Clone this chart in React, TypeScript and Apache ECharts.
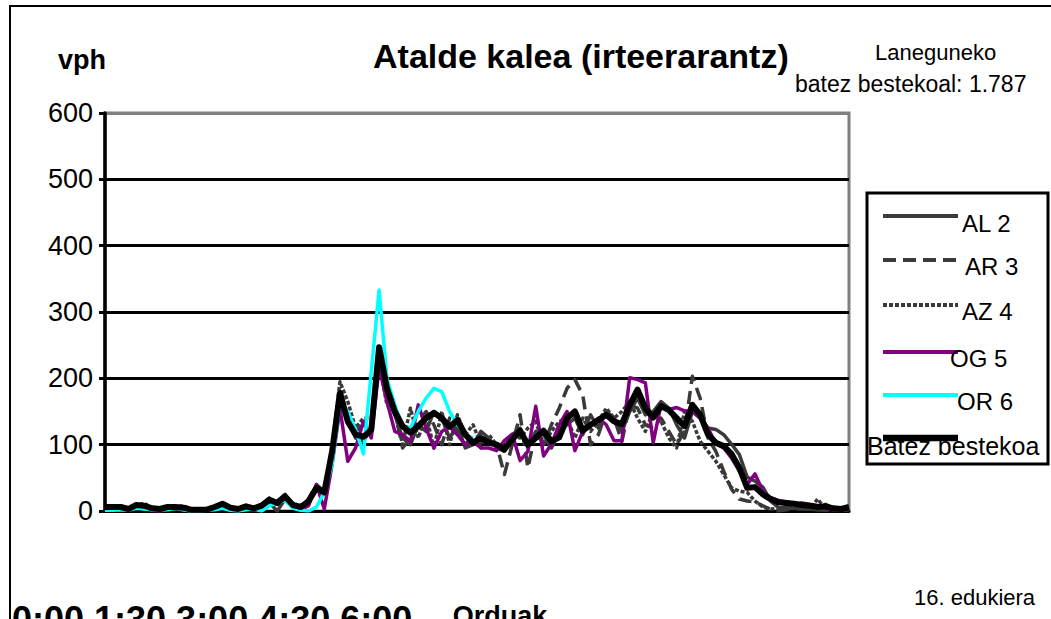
import React, { useEffect, useRef } from "react";
import * as echarts from "echarts";

const FONT = "'Liberation Sans', Arial, sans-serif";

// 15-minute intervals over one day
const categories: string[] = [];
for (let h = 0; h < 24; h++) {
  for (let m = 0; m < 60; m += 15) categories.push(`${h}:${m === 0 ? "00" : m}`);
}

const yMin = 0;
const yMax = 600;
const yStep = 100;

const xLabelRow = ["0:00", "1:30", "3:00", "4:30", "6:00"];

const al2 = [3,5,4,2,8,5,3,2,4,3, 2,1,1,2,4,8,4,2,5,3, 6,12,0,18,7,4,12,32,26,85, 170,140,110,105,125,235,180,145,110,100, 130,120,150,140,110,130,95,100,120,110, 95,90,115,125,95,120,115,95,120,130, 140,115,145,125,150,140,120,150,170,145, 150,165,155,130,110,150,140,125,123,115, 101,85,51,45,36,15,5,5,4,3, 3,2,10,4,2,3];

const ar3 = [8,6,5,4,10,6,5,4,5,8, 4,3,2,3,5,12,6,5,8,5, 10,20,15,25,10,5,18,40,28,95, 185,140,120,130,120,240,175,150,95,110, 135,150,130,100,140,120,100,115,95,105, 100,55,100,145,65,120,100,130,155,185, 198,175,100,115,150,140,105,160,155,130, 125,140,120,100,120,203,170,110,90,60, 33,18,15,14,8,2,0,2,3,4, 3,2,1,2,1,2];

const az4 = [4,5,7,3,8,12,4,2,7,6, 8,2,3,1,7,10,6,3,9,4, 9,15,10,20,8,8,14,38,32,95, 195,165,125,140,140,225,160,150,100,155, 110,145,95,150,100,145,115,130,100,115, 100,95,115,110,125,135,100,120,135,140, 110,140,120,135,155,140,150,165,140,120, 150,135,110,95,150,135,105,90,75,55, 35,30,28,15,6,3,4,6,4,6, 4,18,3,2,4,3];

const og5 = [2,3,4,1,6,4,1,0,3,4, 2,0,0,1,3,9,2,1,4,1, 4,12,10,18,6,2,8,40,3,70, 155,75,95,135,110,217,165,120,115,105, 160,125,95,120,127,115,100,105,95,95, 91,106,116,76,90,158,83,101,130,150, 91,120,130,140,130,106,106,201,198,193, 103,161,153,156,151,150,140,125,101,95, 80,60,40,56,30,20,16,14,10,12, 10,8,4,2,1,3];

const or6 = [1,1,2,1,4,3,2,2,2,4, 2,0,0,1,2,4,1,0,2,3, 0,8,12,16,4,1,0,6,28,70, 165,150,123,86,210,333,200,160,128,125, 150,170,185,180,150,130,115,110,
  null,null,null,null,null,null,null,null,null,null,null,null,null,null,null,null,
  null,null,null,null,null,null,null,null,null,null,null,null,null,null,null,null,
  null,null,null,null,null,null,null,null,null,null,null,null,null,null,null,null];

const avg = [6,6,6,3,9,8,4,3,6,6, 5,2,2,2,6,11,5,3,7,4, 8,17,12,22,9,6,15,35,28,90, 178,135,115,112,122,247,185,150,128,118, 128,140,148,140,127,137,115,103,110,103, 100,93,108,121,100,110,121,105,111,140, 150,121,130,137,145,135,131,160,183,155, 141,158,152,140,128,160,145,115,103,98, 86,65,35,36,25,18,13,12,11,9, 8,6,7,4,3,6];

const seriesNames = ["AL 2", "AR 3", "AZ 4", "OG 5", "OR 6", "Batez bestekoa"];
const seriesData = [al2, ar3, az4, og5, or6, avg];
const seriesColors = ["#3a3a3a", "#3a3a3a", "#3a3a3a", "#800080", "#00ffff", "#000000"];
const seriesWidths = [3.5, 3.5, 3.5, 3.5, 3.5, 6];
const seriesDash: any[] = ["solid", [13, 7], [4, 2], "solid", "solid", "solid"];

// legend layout
const legendRowsY = [216, 260, 305, 352, 395, 438];
const legendTextX = [962, 965, 962, 950, 957, 867];
const legendTextY = [223, 266, 311, 358, 401, 446];
const legendFont = [24, 24, 24, 24, 24, 25];

export default function App() {
  const ref = useRef<HTMLDivElement>(null);
  useEffect(() => {
    const chart = echarts.init(ref.current!, null, { renderer: "svg" });
    const legendEls: any[] = [
      {
        type: "rect",
        shape: { x: 867, y: 193, width: 181, height: 271 },
        style: { fill: "#fff", stroke: "#000", lineWidth: 3 },
        silent: true,
      },
    ];
    seriesNames.forEach((n, i) => {
      legendEls.push({
        type: "line",
        shape: { x1: 883, y1: legendRowsY[i], x2: 958, y2: legendRowsY[i] },
        style: {
          stroke: seriesColors[i],
          lineWidth: seriesWidths[i] + 0.5,
          lineDash: Array.isArray(seriesDash[i]) ? seriesDash[i] : null,
        },
        silent: true,
      });
      legendEls.push({
        type: "text",
        x: legendTextX[i],
        y: legendTextY[i],
        style: {
          text: n,
          fill: "#000",
          font: `${legendFont[i]}px ${FONT}`,
          textVerticalAlign: "middle",
        },
        silent: true,
      });
    });

    const option: any = {
      animation: false,
      backgroundColor: "#fff",
      title: [
        {
          text: "Atalde kalea (irteerarantz)",
          left: 373,
          top: 39,
          padding: 0,
          textStyle: { fontSize: 34, fontWeight: "bold", color: "#000", fontFamily: FONT },
        },
        {
          text: "vph",
          left: 58,
          top: 46,
          padding: 0,
          textStyle: { fontSize: 27, fontWeight: "bold", color: "#000", fontFamily: FONT },
        },
        {
          text: "Laneguneko",
          left: 875,
          top: 41,
          padding: 0,
          textStyle: { fontSize: 22, fontWeight: "normal", color: "#000", fontFamily: FONT },
        },
        {
          text: "batez bestekoal: 1.787",
          left: 795,
          top: 72,
          padding: 0,
          textStyle: { fontSize: 23, fontWeight: "normal", color: "#000", fontFamily: FONT },
        },
        {
          text: "16. edukiera",
          left: 914,
          top: 586,
          padding: 0,
          textStyle: { fontSize: 22, fontWeight: "normal", color: "#000", fontFamily: FONT },
        },
      ],
      grid: {
        left: 105,
        right: 202,
        top: 113,
        bottom: 108,
        show: true,
        borderColor: "#808080",
        borderWidth: 3,
        containLabel: false,
        outerBoundsMode: "none",
      },
      xAxis: {
        type: "category",
        data: categories,
        boundaryGap: false,
        name: "Orduak",
        nameLocation: "middle",
        nameGap: 91,
        nameTextStyle: {
          fontSize: 27,
          fontWeight: "bold",
          color: "#000",
          fontFamily: FONT,
          verticalAlign: "top",
          padding: [0, 0, 0, 46],
        },
        axisLine: { show: true, lineStyle: { color: "#000", width: 3 } },
        axisTick: { show: false },
        axisLabel: { show: false },
        splitLine: { show: false },
      },
      yAxis: {
        type: "value",
        min: yMin,
        max: yMax,
        interval: yStep,
        axisLine: { show: true, lineStyle: { color: "#000", width: 3.5 } },
        axisTick: { show: true, length: 6, lineStyle: { color: "#000", width: 3 } },
        axisLabel: { fontSize: 27, color: "#000", fontFamily: FONT, margin: 12 },
        splitLine: {
          show: true,
          lineStyle: { color: ["#000", "#000", "#000", "#000", "#000", "#000", "#808080"], width: 3 },
        },
      },
      legend: { show: false, data: seriesNames },
      series: seriesNames.map((n, i) => ({
        name: n,
        type: "line",
        data: seriesData[i],
        symbol: "none",
        connectNulls: false,
        z: 2 + i,
        lineStyle: { color: seriesColors[i], width: seriesWidths[i], type: seriesDash[i], join: "round" },
        itemStyle: { color: seriesColors[i] },
      })),
      graphic: [
        {
          type: "rect",
          shape: { x: 10, y: 6, width: 1100, height: 700 },
          style: { fill: "none", stroke: "#000", lineWidth: 2 },
          silent: true,
        },
        {
          type: "text",
          x: 12,
          y: 601,
          style: {
            text: xLabelRow.join(" "),
            fill: "#000",
            font: `bold 36px ${FONT}`,
            textVerticalAlign: "top",
          },
          silent: true,
        },
        ...legendEls,
      ],
    };
    chart.setOption(option);
    return () => chart.dispose();
  }, []);
  return (
    <div
      ref={ref}
      style={{ position: "fixed", left: 0, top: 0, width: 1051, height: 619, background: "#fff" }}
    />
  );
}
